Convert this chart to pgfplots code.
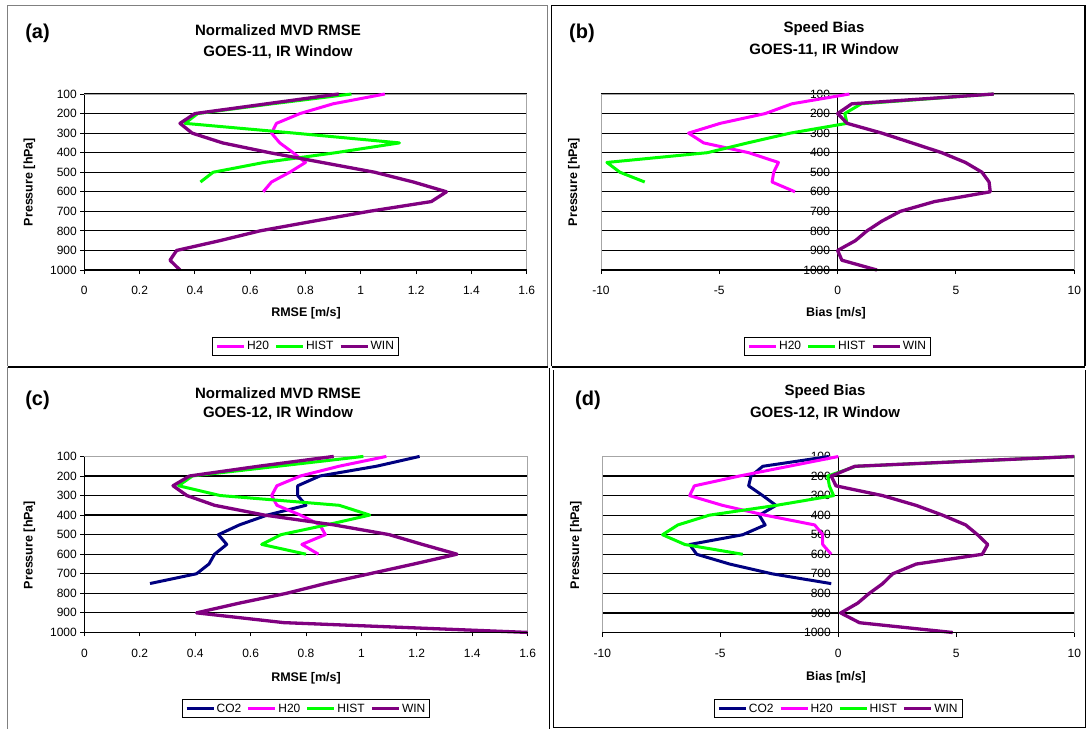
\documentclass[border=0pt]{standalone}
\usepackage{pgfplots}
\pgfplotsset{compat=1.18}
\usepackage{pgfplotstable}
\usepackage{fontspec}
\setmainfont{Liberation Sans}
\definecolor{cH}{HTML}{FF00FF}
\definecolor{cG}{HTML}{00FF00}
\definecolor{cW}{HTML}{800080}
\definecolor{cC}{HTML}{000080}

% ---------- panel (a) ----------
\pgfplotstableread{
p v
100 1.087
150 0.90
200 0.78
250 0.695
300 0.677
350 0.707
400 0.755
450 0.80
500 0.743
550 0.677
600 0.647
}\aH
\pgfplotstableread{
p v
100 0.966
150 0.68
200 0.41
250 0.364
300 0.76
350 1.14
400 0.91
450 0.65
500 0.466
550 0.42
}\aG
\pgfplotstableread{
p v
100 0.92
150 0.66
200 0.40
250 0.346
300 0.39
350 0.50
400 0.67
450 0.86
500 1.05
550 1.19
600 1.31
650 1.255
700 1.03
750 0.83
800 0.635
850 0.49
900 0.334
950 0.31
1000 0.346
}\aW
% ---------- panel (b) ----------
\pgfplotstableread{
p v
100 0.5
150 -1.93
200 -3.06
250 -4.96
300 -6.3
350 -5.66
400 -3.76
450 -2.5
500 -2.7
550 -2.77
600 -1.8
}\bH
\pgfplotstableread{
p v
100 6.6
150 1.0
200 0.3
250 0.4
300 -2.0
350 -3.8
400 -5.5
450 -9.75
500 -9.2
550 -8.15
}\bG
\pgfplotstableread{
p v
100 6.6
150 0.6
200 0.0
250 0.4
300 1.87
350 3.14
400 4.4
450 5.4
500 6.1
550 6.4
600 6.45
650 4.1
700 2.65
750 1.87
800 1.24
850 0.75
900 0.0
950 0.18
1000 1.66
}\bW
% ---------- panel (c) ----------
\pgfplotstableread{
p v
100 1.21
150 1.055
200 0.85
250 0.77
300 0.77
350 0.80
400 0.66
450 0.56
500 0.484
550 0.514
600 0.47
650 0.45
700 0.405
750 0.237
}\cC
\pgfplotstableread{
p v
100 1.09
150 0.92
200 0.78
250 0.695
300 0.676
350 0.695
400 0.78
450 0.85
500 0.87
550 0.785
600 0.845
}\cH
\pgfplotstableread{
p v
100 1.007
150 0.70
200 0.39
250 0.34
300 0.49
350 0.92
400 1.03
450 0.875
500 0.71
550 0.64
600 0.80
}\cG
\pgfplotstableread{
p v
100 0.90
150 0.63
200 0.38
250 0.32
300 0.37
350 0.47
400 0.65
450 0.90
500 1.10
550 1.22
600 1.345
650 1.19
700 1.03
750 0.87
800 0.73
850 0.56
900 0.405
950 0.72
1000 1.6
}\cW
% ---------- panel (d) ----------
\pgfplotstableread{
p v
100 -0.4
150 -3.2
200 -3.7
250 -3.8
300 -3.2
350 -2.64
400 -3.35
450 -3.1
500 -4.05
550 -6.3
600 -6.0
650 -4.6
700 -2.8
750 -0.3
}\dC
\pgfplotstableread{
p v
100 0.0
150 -2.1
200 -4.2
250 -6.1
300 -6.3
350 -4.9
400 -3.1
450 -1.0
500 -0.66
550 -0.66
600 -0.3
}\dH
\pgfplotstableread{
p v
100 10.0
150 0.75
200 -0.45
250 -0.38
300 -0.2
350 -2.64
400 -5.47
450 -6.8
500 -7.45
550 -6.5
600 -4.05
}\dG
\pgfplotstableread{
p v
100 10.0
150 0.7
200 -0.3
250 -0.1
300 1.88
350 3.3
400 4.42
450 5.4
500 5.9
550 6.33
600 6.1
650 3.3
700 2.3
750 1.88
800 1.31
850 0.82
900 0.1
950 0.9
1000 4.85
}\dW

\pgfplotsset{
  base/.style={
    scale only axis, height=176bp, anchor=center,
    y dir=reverse, ymin=100, ymax=1000,
    ytick={100,200,300,400,500,600,700,800,900,1000},
    yticklabels={100,200,300,400,500,600,700,800,900,1000},
    ymajorgrids, major grid style={black, line width=1.2bp},
    axis x line*=bottom,
    axis line style={black, line width=1.2bp, -},
    tick style={black, line width=0.9bp},
    tick align=outside, major tick length=4bp,
    tick label style={font=\fontsize{12bp}{14bp}\selectfont},
    xticklabel style={yshift=-9bp},
    clip=false,
    legend columns=-1,
    legend style={at={(0.5,-0.38)}, anchor=north, draw=black, line width=0.9bp,
      font=\fontsize{12bp}{14bp}\selectfont, inner xsep=3bp, inner ysep=2.5bp,
      nodes={inner sep=1.5bp},
      /tikz/every even column/.append style={column sep=4bp}},
    legend image code/.code={\draw[#1] (0bp,0bp) -- (27bp,0bp);},
    every axis plot/.append style={line width=3bp, line join=round},
  },
  rmse/.style={base, width=443bp, xmin=0, xmax=1.6,
    xtick={0,0.2,0.4,0.6,0.8,1,1.2,1.4,1.6},
    xticklabels={0,0.2,0.4,0.6,0.8,1,1.2,1.4,1.6},
    axis y line*=left},
  bias/.style={base, width=473bp, xmin=-10, xmax=10,
    xtick={-10,-5,0,5,10}, xticklabels={-10,-5,0,5,10},
    axis y line*=middle,
    hide obscured x ticks=false, hide obscured y ticks=false},
}

\begin{document}
\begin{tikzpicture}[x=1bp,y=1bp]
\useasboundingbox (0,0) rectangle (1087,-729);
\fill[white] (0,0) rectangle (1087,-729);
% panel frames
\draw[gray, line width=1bp] (7.5,-366) -- (7.5,-5.5) -- (547.5,-5.5) -- (547.5,-366);
\draw[black, line width=1.5bp] (551.5,-366) -- (551.5,-5.5) -- (1085,-5.5) -- (1085,-366);
\draw[black, line width=2.5bp] (7.5,-367) -- (547.5,-367);
\draw[black, line width=2.5bp] (551.5,-367) -- (1085,-367);
\draw[gray, line width=1bp] (7.5,-367) -- (7.5,-729);
\draw[black, line width=1bp] (549,-368) -- (549,-729);
\draw[black, line width=1bp] (553,-370) -- (553,-727) -- (1085,-727) -- (1085,-370);

% ===== (a) =====
\begin{axis}[rmse, at={(305.5bp,-182bp)}, width=442.4bp]
\draw[gray!70, line width=0.8bp] (axis cs:0,100) -- (axis cs:1.6,100) -- (axis cs:1.6,1000);
\addplot[cH] table[x=v,y=p] {\aH};
\addplot[cG] table[x=v,y=p] {\aG};
\addplot[cW, line width=3.3bp] table[x=v,y=p] {\aW};
\draw[black, line width=1.2bp] (axis cs:0,1000) -- (axis cs:1.6,1000);
\legend{H20,HIST,WIN}
\end{axis}
% ===== (b) =====
\begin{axis}[bias, at={(837.6bp,-182bp)}, width=473.3bp]
\draw[gray!70, line width=0.8bp] (axis cs:-10,1000) -- (axis cs:-10,100) -- (axis cs:10,100) -- (axis cs:10,1000);
\addplot[cH] table[x=v,y=p] {\bH};
\addplot[cG] table[x=v,y=p] {\bG};
\addplot[cW, line width=3.3bp] table[x=v,y=p] {\bW};
\draw[black, line width=1.2bp] (axis cs:-10,1000) -- (axis cs:10,1000);
\legend{H20,HIST,WIN}
\end{axis}
% ===== (c) =====
\begin{axis}[rmse, at={(306bp,-544.4bp)}, width=443.3bp]
\draw[gray!70, line width=0.8bp] (axis cs:0,100) -- (axis cs:1.6,100) -- (axis cs:1.6,1000);
\addplot[cC] table[x=v,y=p] {\cC};
\addplot[cH] table[x=v,y=p] {\cH};
\addplot[cG] table[x=v,y=p] {\cG};
\addplot[cW, line width=3.3bp] table[x=v,y=p] {\cW};
\draw[black, line width=1.2bp] (axis cs:0,1000) -- (axis cs:1.6,1000);
\legend{CO2,H20,HIST,WIN}
\end{axis}
% ===== (d) =====
\begin{axis}[bias, at={(838.3bp,-544.5bp)}, width=472bp]
\draw[gray!70, line width=0.8bp] (axis cs:-10,1000) -- (axis cs:-10,100) -- (axis cs:10,100) -- (axis cs:10,1000);
\addplot[cC] table[x=v,y=p] {\dC};
\addplot[cH] table[x=v,y=p] {\dH};
\addplot[cG] table[x=v,y=p] {\dG};
\addplot[cW, line width=3.3bp] table[x=v,y=p] {\dW};
\draw[black, line width=1.2bp] (axis cs:-10,1000) -- (axis cs:10,1000);
\legend{CO2,H20,HIST,WIN}
\end{axis}

% titles and labels
\tikzset{ttl/.style={font=\bfseries\fontsize{15bp}{17bp}\selectfont},
         plab/.style={font=\bfseries\fontsize{20bp}{22bp}\selectfont},
         alab/.style={font=\bfseries\fontsize{12.5bp}{14bp}\selectfont}}
\node[plab] at (37.5,-33) {(a)};
\node[plab] at (582,-33) {(b)};
\node[plab] at (37.5,-400) {(c)};
\node[plab] at (588,-400) {(d)};
\node[ttl] at (278,-30) {Normalized MVD RMSE};
\node[ttl] at (278,-52) {GOES-11, IR Window};
\node[ttl] at (824,-29) {Speed Bias};
\node[ttl] at (824,-50) {GOES-11, IR Window};
\node[ttl] at (278,-393) {Normalized MVD RMSE};
\node[ttl] at (278,-413) {GOES-12, IR Window};
\node[ttl] at (825,-392) {Speed Bias};
\node[ttl] at (825,-413) {GOES-12, IR Window};
\node[alab] at (306,-313) {RMSE [m/s]};
\node[alab] at (836,-313) {Bias [m/s]};
\node[alab] at (306,-678) {RMSE [m/s]};
\node[alab] at (836,-677) {Bias [m/s]};
\node[alab, rotate=90] at (29.5,-182) {Pressure [hPa]};
\node[alab, rotate=90] at (574,-182) {Pressure [hPa]};
\node[alab, rotate=90] at (29.5,-545) {Pressure [hPa]};
\node[alab, rotate=90] at (576,-545) {Pressure [hPa]};
\end{tikzpicture}
\end{document}
